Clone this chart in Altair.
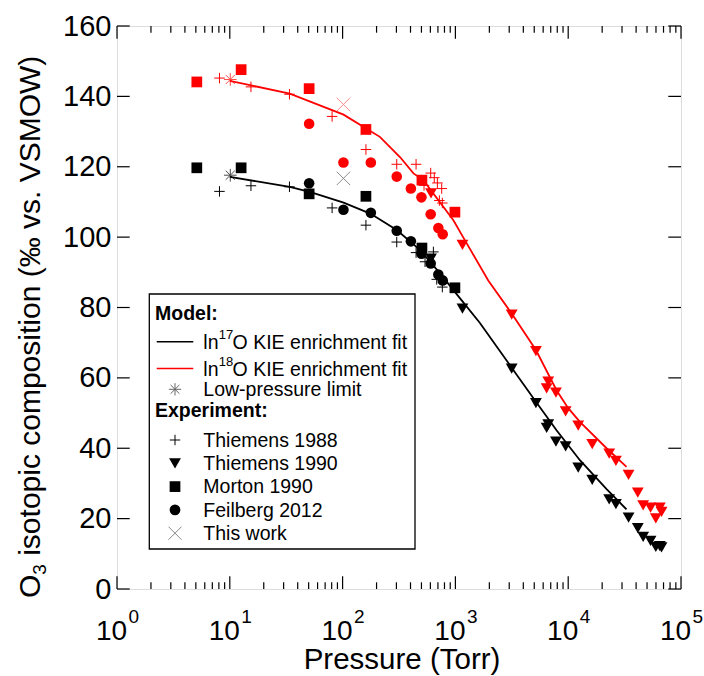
import altair as alt
import pandas as pd

# ---------------- data ----------------
# Thiemens 1988 (+)
t88_p17 = [8.1, 15.4, 33.8, 80.7, 161, 302, 448, 538, 638, 683, 766]
t88_v17 = [113.0, 114.6, 114.3, 108.3, 103.4, 98.6, 95.6, 93.0, 95.8, 88.0, 85.8]
t88_p18 = [8.1, 15.4, 33.8, 80.7, 161, 302, 448, 527, 604, 650, 692, 756, 721, 766]
t88_v18 = [145.2, 142.7, 140.6, 134.3, 124.9, 120.7, 120.7, 114.7, 118.2, 116.9, 115.4, 113.8, 110.4, 109.7]

# Thiemens 1990 (inverted triangles)
t90_p = [608, 1155, 3155, 5175, 6440, 6653, 7787, 9490, 12270, 16330, 23080, 26480,
         34290, 41400, 46200, 53700, 59800, 64900, 67200]
t90_v18 = [112.4, 97.8, 78.0, 67.6, 57.0, 58.9, 55.8, 50.5, 46.4, 41.2, 38.5, 36.4,
           32.4, 27.4, 23.8, 23.1, 20.1, 23.1, 21.9]
t90_v17 = [93.9, 79.7, 62.6, 52.8, 45.8, 46.8, 41.9, 40.5, 34.5, 31.0, 25.5, 24.1,
           20.3, 17.3, 14.8, 13.7, 12.0, 12.2, 11.8]

# Morton 1990 (squares)
m_p = [5.1, 12.6, 50.5, 161, 505, 990]
m_v18 = [144.1, 147.6, 142.2, 130.6, 116.2, 107.1]
m_v17 = [119.7, 119.7, 112.3, 111.6, 96.9, 85.6]

# Feilberg 2012 (circles)
f_p = [50.5, 101.7, 178, 302, 403, 500, 604, 706, 772]
f_v18 = [132.2, 121.2, 121.2, 117.2, 113.8, 111.3, 106.5, 102.6, 100.8]
f_v17 = [115.3, 107.8, 106.9, 101.8, 98.8, 95.3, 92.5, 89.4, 87.7]

# This work (x)
tw_p = [101.7]
tw_v18 = [137.7]
tw_v17 = [116.7]

# Model low-pressure limit (asterisk)
lpl_p = [10.1]
lpl_v18 = [144.8]
lpl_v17 = [117.6]

# Model KIE enrichment fits
fit17_p = [10, 34, 52, 102, 176, 302, 487, 730, 1100, 1650, 3155, 5175, 7880, 12700, 21900, 32900]
fit17_v = [117.1, 114.3, 112.8, 109.8, 106.7, 102.0, 96.3, 89.7, 82.6, 75.6, 62.9, 53.2, 45.1, 36.6, 28.4, 22.6]
fit18_p = [10, 34, 102, 163, 214, 324, 425, 520, 960, 1170, 1955, 3155, 5175, 7880, 10000, 12700, 21900, 32900]
fit18_v = [144.4, 140.8, 134.8, 130.8, 128.5, 122.7, 118.1, 116.2, 104.8, 100.0, 87.7, 78.3, 67.9, 56.5, 51.4, 47.5, 40.0, 34.7]

x_decades = [1, 10, 100, 1000, 10000, 100000]
x_exponents = ["0", "1", "2", "3", "4", "5"]
y_ticks = [0, 20, 40, 60, 80, 100, 120, 140, 160]

legend_model_title = "Model:"
legend_exp_title = "Experiment:"
legend_exp_labels = ["Thiemens 1988", "Thiemens 1990", "Morton 1990", "Feilberg 2012", "This work"]

# ---------------- layout ----------------
W, H = 564, 563
OX, OY = 117, 26
FONT = "Liberation Sans"

rows = []


def add(ds, iso, P, V):
    for p, v in zip(P, V):
        rows.append({"ds": ds, "iso": iso, "P": p, "v": v})


add("t88", "17", t88_p17, t88_v17)
add("t88", "18", t88_p18, t88_v18)
add("t90", "17", t90_p, t90_v17)
add("t90", "18", t90_p, t90_v18)
add("m", "17", m_p, m_v17)
add("m", "18", m_p, m_v18)
add("f", "17", f_p, f_v17)
add("f", "18", f_p, f_v18)
add("tw", "17", tw_p, tw_v17)
add("tw", "18", tw_p, tw_v18)
add("lpl", "17", lpl_p, lpl_v17)
add("lpl", "18", lpl_p, lpl_v18)
add("fit", "17", fit17_p, fit17_v)
add("fit", "18", fit18_p, fit18_v)
df = pd.DataFrame(rows)

xs = alt.Scale(type="log", domain=[1, 100000])
ys = alt.Scale(domain=[0, 160], nice=False, zero=False)

X = alt.X("P:Q", scale=xs, title=None,
          axis=alt.Axis(values=x_decades, labelExpr="'10'", domain=False, ticks=False, grid=False,
                        labelFont=FONT, labelFontSize=28, labelColor="black", labelPadding=28,
                        labelOffset=-6, labelFlush=False, labelOverlap=False, labelBound=False))
Y = alt.Y("v:Q", scale=ys, title=None,
          axis=alt.Axis(values=y_ticks, domain=False, ticks=False, grid=False,
                        labelFont=FONT, labelFontSize=29, labelColor="black", labelPadding=6,
                        labelFlush=False, labelOverlap=False, labelBound=False))
col = alt.Color("iso:N", scale=alt.Scale(domain=["17", "18"], range=["#000000", "#ff0000"]), legend=None)

base = alt.Chart(df)

PLUS = "M-1,0H1M0,-1V1"
CROSS = "M-1,-1L1,1M-1,1L1,-1"
STAR = "M-1,0H1M0,-1V1M-0.72,-0.72L0.72,0.72M-0.72,0.72L0.72,-0.72"


def pts(ds, **kw):
    return base.transform_filter(alt.datum.ds == ds).mark_point(**kw).encode(x=X, y=Y, color=col)


layers = []

# tick marks (inward), major and minor, on all four sides
minor = [m * 10 ** k for k in range(5) for m in range(2, 10)]
maj_df = pd.DataFrame({"P": x_decades})
min_df = pd.DataFrame({"P": minor})
xr = alt.X("P:Q", scale=xs)
for d, ln in [(maj_df, 12.7), (min_df, 6.7)]:
    layers.append(alt.Chart(d).mark_rule(color="black", strokeWidth=1.2)
                  .encode(x=xr, y=alt.value(0), y2=alt.value(ln)))
    layers.append(alt.Chart(d).mark_rule(color="black", strokeWidth=1.2)
                  .encode(x=xr, y=alt.value(H), y2=alt.value(H - ln)))
yt_df = pd.DataFrame({"v": y_ticks})
yr = alt.Y("v:Q", scale=ys)
layers.append(alt.Chart(yt_df).mark_rule(color="black", strokeWidth=1.2)
              .encode(y=yr, x=alt.value(0), x2=alt.value(12.7)))
layers.append(alt.Chart(yt_df).mark_rule(color="black", strokeWidth=1.2)
              .encode(y=yr, x=alt.value(W), x2=alt.value(W - 12.7)))

# data
layers.append(base.transform_filter(alt.datum.ds == "fit").mark_line(strokeWidth=1.8)
              .encode(x=X, y=Y, color=col))
layers.append(pts("t88", shape=PLUS, size=110, strokeWidth=1, filled=False, opacity=1))
layers.append(pts("m", shape="square", size=115, filled=True, opacity=1))
layers.append(pts("f", shape="circle", size=112, filled=True, opacity=1))
layers.append(pts("t90", shape="triangle-down", size=140, filled=True, opacity=1))
layers.append(pts("tw", shape=CROSS, size=180, strokeWidth=1, filled=False, opacity=0.45))
layers.append(pts("lpl", shape=STAR, size=160, strokeWidth=1, filled=False, opacity=0.7))

# exponents of x tick labels
exp_df = pd.DataFrame({"P": x_decades, "e": x_exponents})
layers.append(alt.Chart(exp_df).mark_text(align="left", baseline="alphabetic", font=FONT,
                                          fontSize=19, dx=11.5, color="black")
              .encode(x=xr, y=alt.value(H + 34), text="e:N"))


def txt(x, y, s, size=19.5, **kw):
    return (alt.Chart(pd.DataFrame({"t": [s]}))
            .mark_text(font=FONT, fontSize=size, color="black", **kw)
            .encode(x=alt.value(x - OX), y=alt.value(y - OY), text="t:N"))


# axis titles
layers.append(txt(402, 669, "Pressure (Torr)", size=29.5, align="center", baseline="alphabetic"))
ty0 = 598
layers.append(txt(40, ty0, "O", size=30, angle=270, align="left", baseline="alphabetic"))
layers.append(txt(46, ty0 - 23.3, "3", size=19, angle=270, align="left", baseline="alphabetic"))
layers.append(txt(40, ty0 - 23.3 - 10.6 - 8.3, "isotopic composition (\u2030 vs. VSMOW)", size=30,
                  angle=270, align="left", baseline="alphabetic"))

# legend box
layers.append(alt.Chart(pd.DataFrame({"a": [0]})).mark_rect(fill="white", stroke="black", strokeWidth=1.3)
              .encode(x=alt.value(149.3 - OX), x2=alt.value(415 - OX),
                      y=alt.value(294 - OY), y2=alt.value(549 - OY)))

TX = 203.3
SX = 175
layers.append(txt(155, 319.5, legend_model_title, fontWeight="bold", align="left", baseline="alphabetic"))
layers.append(txt(155, 416.5, legend_exp_title, fontWeight="bold", align="left", baseline="alphabetic"))

for sup, yb, c in [("17", 349.3, "black"), ("18", 376, "red")]:
    layers.append(txt(TX, yb, "ln", align="left", baseline="alphabetic"))
    layers.append(txt(TX + 15.5, yb - 10, sup, size=13, align="left", baseline="alphabetic"))
    layers.append(txt(TX + 29.3, yb, "O KIE enrichment fit", align="left", baseline="alphabetic"))
    layers.append(alt.Chart(pd.DataFrame({"a": [0]})).mark_rule(color=c, strokeWidth=1.5)
                  .encode(x=alt.value(156.7 - OX), x2=alt.value(193.3 - OX), y=alt.value(yb - 7.5 - OY)))

layers.append(txt(TX, 396, "Low-pressure limit", align="left", baseline="alphabetic"))


def sym(y, **kw):
    return (alt.Chart(pd.DataFrame({"a": [0]})).mark_point(**kw)
            .encode(x=alt.value(SX - OX), y=alt.value(y - OY)))


layers.append(sym(389.3, shape=STAR, size=150, strokeWidth=1, filled=False, color="#666666", opacity=1))

exp_sym = [dict(shape=PLUS, size=110, strokeWidth=1, filled=False, color="black", opacity=1),
           dict(shape="triangle-down", size=140, filled=True, color="black", opacity=1),
           dict(shape="square", size=115, filled=True, color="black", opacity=1),
           dict(shape="circle", size=115, filled=True, color="black", opacity=1),
           dict(shape=CROSS, size=170, strokeWidth=1, filled=False, color="#888888", opacity=1)]
for i, (lab, sk) in enumerate(zip(legend_exp_labels, exp_sym)):
    yb = 446.7 + i * 23.3
    layers.append(txt(TX, yb, lab, align="left", baseline="alphabetic"))
    layers.append(sym(yb - 6.7, **sk))

chart = (alt.layer(*layers)
         .properties(width=W, height=H, autosize=alt.AutoSizeParams(type="none"),
                     padding={"left": OX, "top": OY, "right": 704 - OX - W, "bottom": 676 - OY - H})
         .configure_view(stroke="black", strokeWidth=1.3)
         .configure(background="white"))

chart.save("out.html", embed_options={"renderer": "svg", "actions": False})
